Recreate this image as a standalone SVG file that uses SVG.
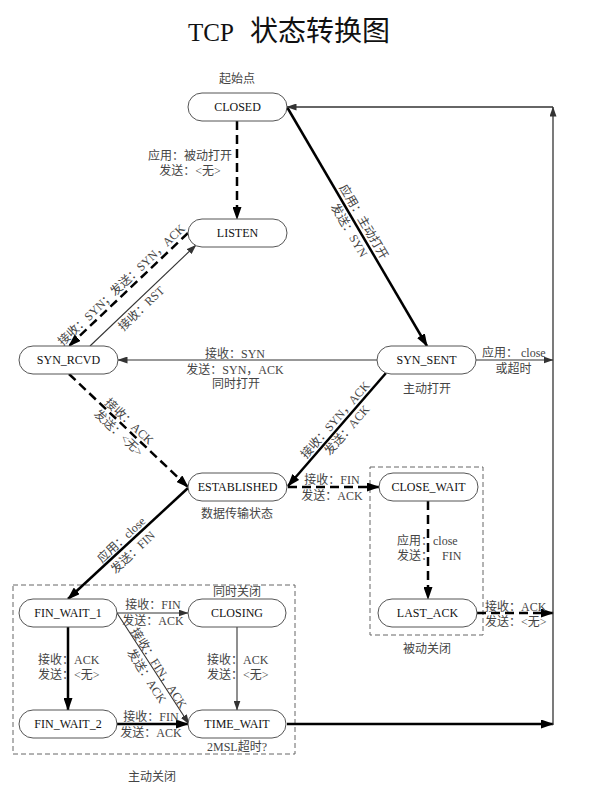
<svg xmlns="http://www.w3.org/2000/svg" width="591" height="785" viewBox="0 0 591 785">
<defs>
<style>
.node rect{fill:#fff;stroke:#555;stroke-width:1}
.node text{font-family:"Liberation Serif","Noto Sans CJK SC",serif;font-size:12px;fill:#111;text-anchor:middle}
.lb{font-family:"Liberation Serif","Noto Sans CJK SC",serif;font-size:12px;fill:#444}
.c{text-anchor:middle}
.thin{stroke:#333;stroke-width:1.1;fill:none;marker-end:url(#at)}
.thick{stroke:#000;stroke-width:2.5;fill:none;marker-end:url(#ak)}
.dash{stroke:#000;stroke-width:2.5;fill:none;stroke-dasharray:9 5;marker-end:url(#ak)}
.box{fill:none;stroke:#666;stroke-width:1;stroke-dasharray:5 3}
</style>
<marker id="at" markerUnits="userSpaceOnUse" markerWidth="10" markerHeight="7" refX="9.5" refY="3.5" orient="auto"><path d="M0,0 L10,3.5 L0,7 z" fill="#333"/></marker>
<marker id="ak" markerUnits="userSpaceOnUse" markerWidth="13" markerHeight="9" refX="12" refY="4.5" orient="auto"><path d="M0,0 L13,4.5 L0,9 z" fill="#000"/></marker>
</defs>
<rect width="591" height="785" fill="#fff"/>
<text x="188" y="41" font-family="Liberation Serif,serif" font-size="25" fill="#111">TCP<tspan x="250" font-family="Noto Sans CJK SC,sans-serif" font-size="28">状态转换图</tspan></text>

<g id="boxes">
<rect class="box" x="13" y="585" width="282" height="169"/>
<rect class="box" x="370" y="467" width="113" height="168"/>
</g>

<g id="connectors">
<line class="dash" x1="237" y1="121" x2="237" y2="219"/>
<line class="thick" x1="287" y1="107" x2="427" y2="346"/>
<line class="dash" x1="188" y1="233" x2="69" y2="346"/>
<line class="thin" x1="90" y1="346" x2="196" y2="245"/>
<line class="thin" x1="377" y1="360" x2="118" y2="360"/>
<line class="thin" x1="476" y1="360" x2="553" y2="360"/>
<line class="dash" x1="69" y1="374" x2="188" y2="487"/>
<line class="thick" x1="386" y1="373" x2="288" y2="486"/>
<line class="dash" x1="288" y1="487" x2="379" y2="487"/>
<line class="thick" x1="188" y1="488" x2="68" y2="599"/>
<line class="dash" x1="428" y1="501" x2="428" y2="599"/>
<line class="dash" x1="477" y1="613" x2="553" y2="613"/>
<line class="thin" x1="117" y1="613" x2="188" y2="613"/>
<line class="thin" x1="117" y1="613" x2="189" y2="724"/>
<line class="thick" x1="68" y1="627" x2="68" y2="710"/>
<line class="thin" x1="237" y1="627" x2="237" y2="710"/>
<line class="thick" x1="117" y1="724" x2="188" y2="724"/>
<line class="thick" x1="287" y1="724" x2="553" y2="724"/>
<line class="thin" x1="553" y1="725" x2="553" y2="107" style="stroke-width:1.3"/>
<line class="thin" x1="553" y1="107" x2="287" y2="107" style="stroke-width:1.3"/>
</g>

<g id="labels">
<text class="lb c" x="190" y="160">应用：被动打开</text>
<text class="lb c" x="190" y="175">发送：&lt;无&gt;</text>
<g transform="translate(356.6,226) rotate(59.6)">
<text class="lb c" x="0" y="-4.3">应用：主动打开</text>
<text class="lb c" x="0" y="12.7">发送：SYN</text>
</g>
<g transform="translate(121.5,285) rotate(-43.5)">
<text class="lb c" x="0" y="4">接收：SYN；发送：SYN，ACK</text>
</g>
<g transform="translate(141.5,308.5) rotate(-43.8)">
<text class="lb c" x="0" y="4">接收：RST</text>
</g>
<text class="lb c" x="235" y="357.5">接收：SYN</text>
<text class="lb c" x="235" y="373.5">发送：SYN，ACK</text>
<text class="lb c" x="236" y="388">同时打开</text>
<text class="lb" x="482" y="357">应用： close</text>
<text class="lb c" x="513.5" y="373">或超时</text>
<g transform="translate(124,427) rotate(43)">
<text class="lb c" x="0" y="-3.6">接收：ACK</text>
<text class="lb c" x="0" y="12">发送：&lt;无&gt;</text>
</g>
<g transform="translate(341,425) rotate(-48.8)">
<text class="lb c" x="0" y="-3.6">接收：SYN，ACK</text>
<text class="lb c" x="0" y="12">发送：ACK</text>
</g>
<text class="lb c" x="332" y="484">接收：FIN</text>
<text class="lb c" x="332" y="500">发送：ACK</text>
<g transform="translate(127,546) rotate(-43)">
<text class="lb c" x="0" y="-4.3">应用：close</text>
<text class="lb c" x="0" y="12.7">发送：FIN</text>
</g>
<text class="lb" x="397" y="545">应用：close</text>
<text class="lb" x="397" y="560">发送：<tspan x="442">FIN</tspan></text>
<text class="lb" x="485" y="611">接收：ACK</text>
<text class="lb" x="485" y="626">发送：&lt;无&gt;</text>
<text class="lb c" x="153" y="609">接收：FIN</text>
<text class="lb c" x="153" y="625">发送：ACK</text>
<g transform="translate(153,672) rotate(57.4)">
<text class="lb c" x="0" y="-3">接收：FIN，ACK</text>
<text class="lb c" x="0" y="11.5">发送：ACK</text>
</g>
<text class="lb" x="38" y="664">接收：ACK</text>
<text class="lb" x="38" y="679">发送：&lt;无&gt;</text>
<text class="lb" x="207" y="664">接收：ACK</text>
<text class="lb" x="207" y="679">发送：&lt;无&gt;</text>
<text class="lb c" x="151" y="721">接收：FIN</text>
<text class="lb c" x="151" y="737">发送：ACK</text>
<text class="lb c" x="237" y="83">起始点</text>
<text class="lb c" x="427" y="393">主动打开</text>
<text class="lb c" x="237" y="518">数据传输状态</text>
<text class="lb c" x="427" y="653">被动关闭</text>
<text class="lb c" x="237" y="596">同时关闭</text>
<text class="lb c" x="237" y="751">2MSL超时?</text>
<text class="lb c" x="152" y="781">主动关闭</text>
</g>

<g id="CLOSED" class="node"><rect x="188" y="93" width="99" height="28" rx="14"/><text x="237.5" y="111.3">CLOSED</text></g>
<g id="LISTEN" class="node"><rect x="188" y="219" width="99" height="28" rx="14"/><text x="237.5" y="237.3">LISTEN</text></g>
<g id="SYN_RCVD" class="node"><rect x="19" y="346" width="99" height="28" rx="14"/><text x="68.5" y="364.3">SYN_RCVD</text></g>
<g id="SYN_SENT" class="node"><rect x="377" y="346" width="99" height="28" rx="14"/><text x="426.5" y="364.3">SYN_SENT</text></g>
<g id="ESTABLISHED" class="node"><rect x="188" y="473" width="99" height="28" rx="14"/><text x="237.5" y="491.3">ESTABLISHED</text></g>
<g id="CLOSE_WAIT" class="node"><rect x="379" y="473" width="99" height="28" rx="14"/><text x="428.5" y="491.3">CLOSE_WAIT</text></g>
<g id="LAST_ACK" class="node"><rect x="378" y="599" width="99" height="28" rx="14"/><text x="427.5" y="617.3">LAST_ACK</text></g>
<g id="FIN_WAIT_1" class="node"><rect x="19" y="599" width="98" height="28" rx="14"/><text x="68" y="617.3">FIN_WAIT_1</text></g>
<g id="CLOSING" class="node"><rect x="188" y="599" width="98" height="28" rx="14"/><text x="237" y="617.3">CLOSING</text></g>
<g id="FIN_WAIT_2" class="node"><rect x="19" y="710" width="98" height="28" rx="14"/><text x="68" y="728.3">FIN_WAIT_2</text></g>
<g id="TIME_WAIT" class="node"><rect x="188" y="710" width="98" height="28" rx="14"/><text x="237" y="728.3">TIME_WAIT</text></g>
</svg>
